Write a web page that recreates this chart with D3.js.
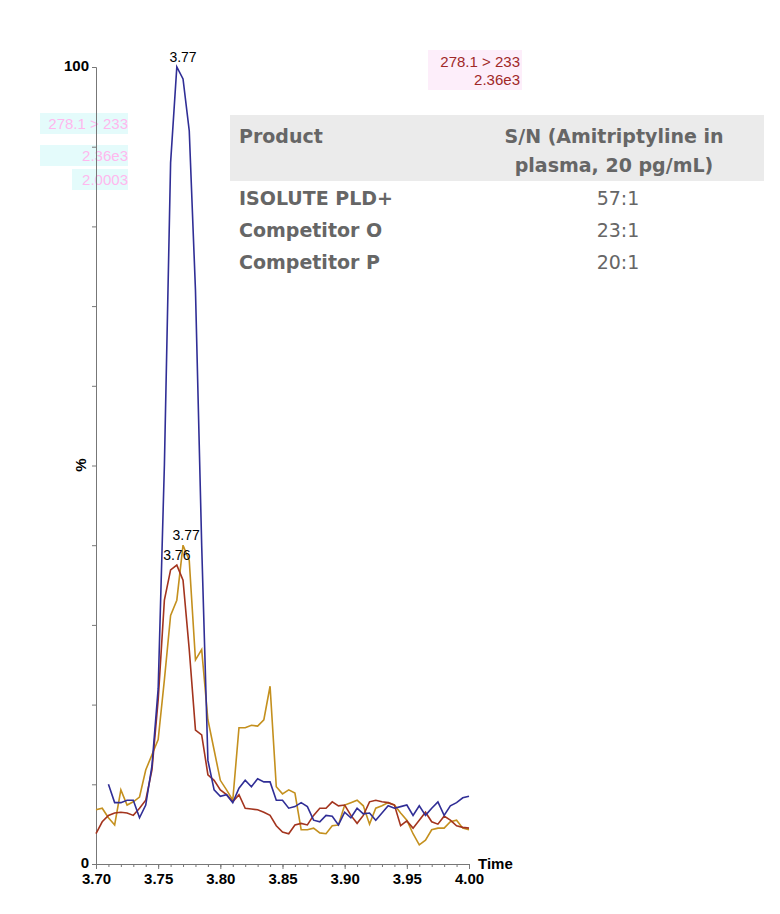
<!DOCTYPE html>
<html><head><meta charset="utf-8">
<script src="https://cdn.jsdelivr.net/npm/d3@7/dist/d3.min.js"></script>
<style>body{margin:0;background:#fff}svg{display:block}</style>
</head><body>
<svg id="c" width="780" height="914"></svg>
<script>
// retention time grid, 3.70 -> 4.00 every 0.005 min
const times = d3.range(61).map(i => +(3.70 + i * 0.005).toFixed(3));

// % intensity (blue starts at 3.71)
const blueTrace = [null, null,
  10.0, 7.7, 7.7, 8.0, 8.0, 5.8, 7.4, 12.3, 22.0, 50.0,
  88.0, 100, 98.5, 92.0, 72.0, 40.0, 13.0, 9.3, 8.5, 8.7,
  7.7, 9.5, 10.5, 9.7, 10.7, 10.3, 10.3, 8.0, 8.0, 7.0,
  7.2, 7.7, 7.2, 5.5, 5.3, 6.1, 6.0, 4.9, 6.5, 5.8,
  7.0, 6.3, 6.4, 5.5, 6.4, 7.3, 7.0, 7.2, 7.4, 6.1,
  7.3, 6.1, 7.0, 7.8, 6.1, 7.3, 7.7, 8.3, 8.5];
const redTrace = [3.8, 5.3, 6.1, 6.4, 6.5, 6.4, 6.1, 7.0, 8.0, 11.8,
  20.6, 33.1, 36.9, 37.5, 35.6, 26.9, 16.8, 16.2, 11.2, 10.5,
  9.3, 8.7, 7.8, 8.7, 7.0, 6.9, 6.8, 6.5, 6.1, 4.8,
  4.0, 3.8, 4.9, 5.1, 4.9, 6.1, 7.0, 7.0, 7.8, 7.3,
  7.4, 6.1, 5.1, 6.1, 7.8, 8.0, 7.8, 7.7, 7.4, 4.8,
  5.4, 4.5, 5.5, 6.5, 5.3, 5.0, 6.0, 5.5, 4.8, 4.6, 4.5];
const goldTrace = [6.8, 7.0, 5.8, 4.9, 9.3, 7.4, 7.8, 8.4, 11.8, 13.7,
  15.6, 23.1, 31.2, 33.1, 40.0, 38.1, 25.6, 26.9, 18.1, 14.3,
  10.5, 9.3, 8.0, 17.1, 17.1, 17.4, 17.3, 18.1, 22.3, 9.7,
  8.8, 9.3, 8.9, 4.3, 4.3, 4.5, 3.9, 3.8, 4.8, 4.9,
  7.4, 7.7, 8.0, 7.3, 5.0, 7.0, 7.3, 7.7, 7.4, 6.4,
  5.5, 3.8, 2.4, 3.0, 4.3, 4.5, 4.5, 5.3, 5.5, 4.5, 4.3];

const xTicks = [3.70, 3.75, 3.80, 3.85, 3.90, 3.95, 4.00];
const products = ['ISOLUTE PLD+', 'Competitor O', 'Competitor P'];
const snRatios = ['57:1', '23:1', '20:1'];

const svg = d3.select('#c');
const x = d3.scaleLinear().domain([3.70, 4.00]).range([96, 469]);
const y = d3.scaleLinear().domain([0, 100]).range([864, 67]);
const axisFont = 'Liberation Sans, Arial, sans-serif';

// faded ghost labels top-left
const ghost = svg.append('g');
[[40, 113, 88, '278.1 > 233'], [40, 145, 88, '2.36e3'], [72, 169, 56, '2.0003']].forEach(([gx, gy, gw, t]) => {
  ghost.append('rect').attr('x', gx).attr('y', gy).attr('width', gw).attr('height', 21).attr('fill', '#e4fbfb');
  ghost.append('text').attr('x', 128).attr('y', gy + 16).attr('text-anchor', 'end')
    .attr('font-family', axisFont).attr('font-size', 15).attr('fill', '#ffb8ee').text(t);
});

// axes
svg.append('g').attr('transform', 'translate(96,0)')
  .call(d3.axisLeft(y).tickValues(d3.range(0, 101, 10)).tickSize(4).tickFormat(d => (d === 0 || d === 100) ? d : ''))
  .call(g => g.select('.domain').attr('stroke', '#777'))
  .call(g => g.selectAll('line').attr('stroke', '#777'))
  .call(g => g.selectAll('text').attr('dy', '0.2em').attr('font-family', axisFont).attr('font-size', 15).attr('font-weight', 'bold').attr('fill', '#000'));
svg.append('text').attr('transform', 'translate(86,465) rotate(-90)').attr('text-anchor', 'middle')
  .attr('font-family', axisFont).attr('font-size', 15).attr('font-weight', 'bold').text('%');

svg.append('g').attr('transform', 'translate(0,864)')
  .call(d3.axisBottom(x).ticks(30).tickSize(3).tickFormat(''))
  .call(g => g.select('.domain').attr('stroke', '#777'))
  .call(g => g.selectAll('line').attr('stroke', '#777'));
svg.append('g').attr('transform', 'translate(0,864)')
  .call(d3.axisBottom(x).tickValues(xTicks).tickSize(5).tickFormat(d3.format('.2f')))
  .call(g => g.select('.domain').remove())
  .call(g => g.selectAll('line').attr('stroke', '#777'))
  .call(g => g.selectAll('text').attr('y', 9).attr('dy', '0.71em').attr('font-family', axisFont).attr('font-size', 15).attr('font-weight', 'bold').attr('fill', '#000'));
svg.append('text').attr('x', 478).attr('y', 869).attr('font-family', axisFont).attr('font-size', 15).attr('font-weight', 'bold').text('Time');

// traces
const line = d3.line().defined(d => d[1] != null).x(d => x(d[0])).y(d => y(d[1]));
[[goldTrace, '#c4901e'], [redTrace, '#a3341e'], [blueTrace, '#302e96']].forEach(([vals, col]) => {
  svg.append('path').datum(times.map((t, i) => [t, vals[i]]))
    .attr('d', line).attr('fill', 'none').attr('stroke', col).attr('stroke-width', 1.6);
});

// peak labels
[[3.77, 100, '3.77'], [3.7725, 40, '3.77'], [3.765, 37.5, '3.76']].forEach(([t, v, s]) => {
  svg.append('text').attr('x', x(t)).attr('y', y(v) - 5).attr('text-anchor', 'middle')
    .attr('font-family', axisFont).attr('font-size', 14).text(s);
});

// channel label top right
const ch = svg.append('g').attr('font-family', axisFont).attr('font-size', 15).attr('fill', '#a02828').attr('text-anchor', 'end');
ch.append('rect').attr('x', 428).attr('y', 50).attr('width', 94).attr('height', 40).attr('fill', '#fdeefa');
ch.append('text').attr('x', 520).attr('y', 67).text('278.1 > 233');
ch.append('text').attr('x', 520).attr('y', 85).text('2.36e3');

// results table
const tf = 'Verdana, DejaVu Sans, sans-serif';
svg.append('rect').attr('x', 230).attr('y', 115).attr('width', 534).attr('height', 66).attr('fill', '#ebebeb');
svg.append('text').attr('x', 239).attr('y', 143).attr('font-family', tf).attr('font-size', 19).attr('font-weight', 'bold').attr('fill', '#666').text('Product');
svg.append('text').attr('x', 614).attr('y', 143).attr('text-anchor', 'middle').attr('font-family', tf).attr('font-size', 19).attr('font-weight', 'bold').attr('fill', '#666').text('S/N (Amitriptyline in');
svg.append('text').attr('x', 614).attr('y', 172).attr('text-anchor', 'middle').attr('font-family', tf).attr('font-size', 19).attr('font-weight', 'bold').attr('fill', '#666').text('plasma, 20 pg/mL)');
products.forEach((p, i) => {
  const ry = 205 + i * 32;
  svg.append('text').attr('x', 239).attr('y', ry).attr('font-family', tf).attr('font-size', 19).attr('font-weight', 'bold').attr('fill', '#666').text(p);
  svg.append('text').attr('x', 618).attr('y', ry).attr('text-anchor', 'middle').attr('font-family', tf).attr('font-size', 19).attr('fill', '#666').text(snRatios[i]);
});
</script>
</body></html>
